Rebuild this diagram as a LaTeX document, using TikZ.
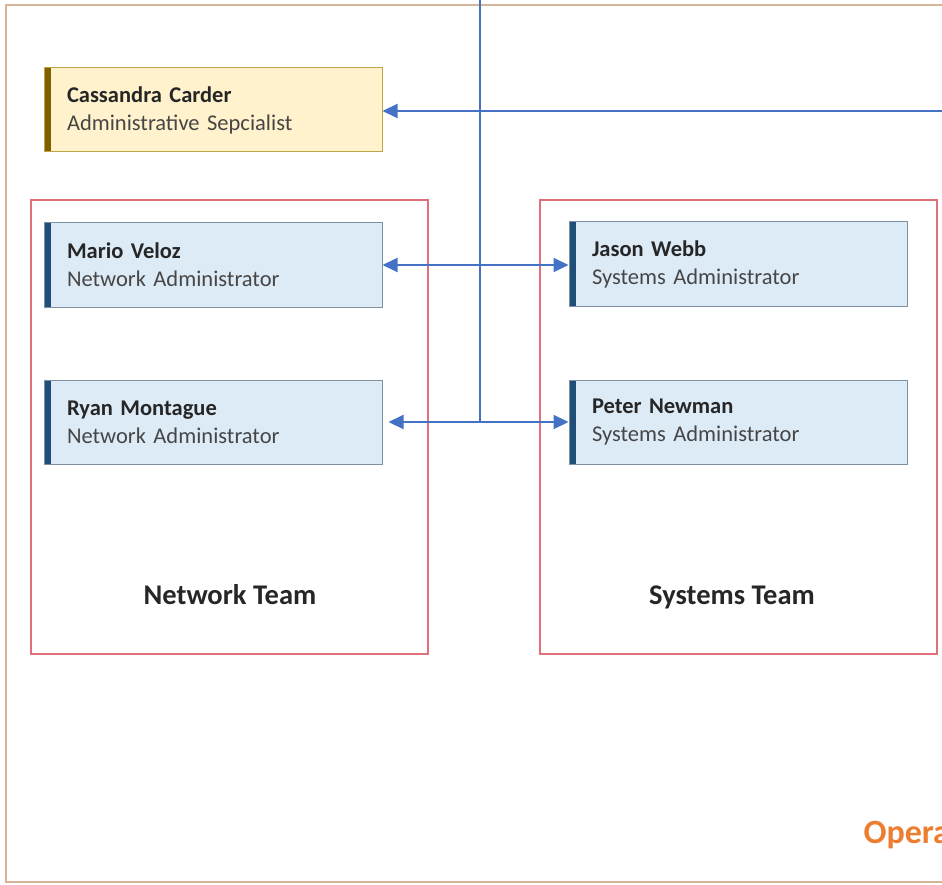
\documentclass[tikz,border=0pt]{standalone}
\usepackage{fontspec}
\setmainfont{Carlito}
\usepackage{xcolor}
\usepackage{tikz}
\usetikzlibrary{positioning, arrows.meta}

\definecolor{bluefill}{RGB}{221,235,247}
\definecolor{blueedge}{RGB}{125,145,165}
\definecolor{blueacc}{RGB}{31,78,121}
\definecolor{goldfill}{RGB}{255,242,204}
\definecolor{goldedge}{RGB}{191,165,70}
\definecolor{goldacc}{RGB}{127,96,0}
\definecolor{linkblue}{RGB}{68,114,196}
\definecolor{teamred}{RGB}{226,112,122}
\definecolor{outertan}{RGB}{212,182,150}
\definecolor{opsorange}{RGB}{237,125,49}
\definecolor{namegray}{RGB}{38,38,38}
\definecolor{rolegray}{RGB}{70,70,70}

\newcommand{\person}[2]{{\bfseries\color{namegray}#1}\\{\color{rolegray}#2}}

\begin{document}
\begin{tikzpicture}[x=1pt, y=-1pt,
    card/.style={draw=#1edge, fill=#1fill, line width=1pt, rectangle,
        minimum width=338pt, minimum height=84pt, inner xsep=23pt,
        text width=292pt, align=left,
        font=\fontsize{22.5}{28}\selectfont,
        path picture={\fill[#1acc] (path picture bounding box.north west)
            rectangle ([xshift=7pt]path picture bounding box.south west);}},
    team/.style={draw=teamred, line width=1.5pt, rectangle,
        minimum width=397pt, minimum height=454pt},
    teamname/.style={font=\fontsize{28.5}{32}\selectfont\bfseries, text=black!85, anchor=base},
    link/.style={draw=linkblue, line width=2pt},
    tips/.style={{Triangle[length=15pt, width=14pt]}-{Triangle[length=15pt, width=14pt]}},
    tip/.style={-{Triangle[length=15pt, width=14pt]}}]

    % page
    \useasboundingbox (0,0) rectangle (942,885);
    \clip (0,0) rectangle (942,885);
    \fill[white] (0,0) rectangle (942,885);
    \draw[outertan, line width=1.5pt] (6,5) rectangle (980,882);

    % team frames
    \node[team] (netteam) at (229.5,427) {};
    \node[team] (systeam) at (738.5,427) {};
    \node[teamname] (netlbl) at (230,604) {Network Team};
    \node[teamname] (syslbl) at (732,604) {Systems Team};

    % people
    \node[card=gold] (cassandra) at (213,110) {\person{Cassandra Carder}{Administrative Sepcialist}};
    \node[card=blue, below=70pt of cassandra] (mario) {\person{Mario Veloz}{Network Administrator}};
    \node[card=blue, below=72pt of mario] (ryan) {\person{Ryan Montague}{Network Administrator}};
    \node[card=blue] (jason) at (738,264) {\person{Jason Webb}{Systems Administrator}};
    \node[card=blue, below=73pt of jason] (peter) {\person{Peter Newman}{Systems Administrator}};

    \node[font=\fontsize{34}{38}\selectfont\bfseries, text=opsorange, anchor=base west] (opslbl) at (860,843) {Opera};

    % connectors
    \coordinate (topbus) at (480,-5);
    \coordinate (feedin) at (950,111);
    \coordinate (junction) at (topbus |- ryan.east);
    \draw[link] (topbus) -- (junction);
    \draw[link, tip] (feedin) -- (cassandra.east |- feedin);
    \draw[link, tips] (mario.east) -- (mario.east -| jason.west);
    \draw[link, tips] ([xshift=6pt]ryan.east) -- (ryan.east -| peter.west);
\end{tikzpicture}
\end{document}
